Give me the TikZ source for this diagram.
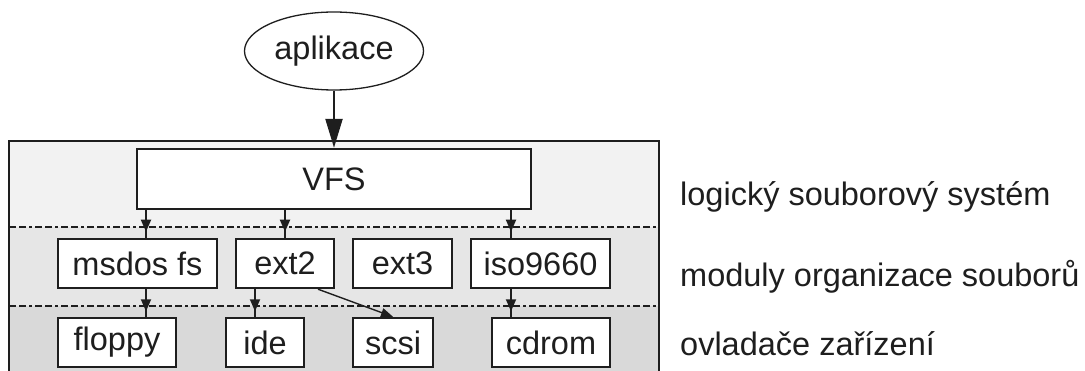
\documentclass[tikz,border=0pt]{standalone}
\usepackage{fontspec}
\setmainfont{Liberation Sans}
\usetikzlibrary{arrows.meta,decorations.markings,calc,shapes.geometric}
\definecolor{inkc}{HTML}{1E1E1E}
\definecolor{bandA}{HTML}{F2F2F2}
\definecolor{bandB}{HTML}{E6E6E6}
\definecolor{bandC}{HTML}{D9D9D9}
\begin{document}
\begin{tikzpicture}[x=1pt,y=-1pt,
  every node/.style={font=\fontsize{32.5}{36}\selectfont, text=inkc},
  boxnode/.style={draw=inkc, line width=2.4pt, fill=white, inner sep=0pt, anchor=center},
  sepline/.style={draw=inkc, line width=2.4pt, dash pattern=on 7pt off 3pt on 7pt off 3pt on 3pt off 3pt},
  midarrow/.style={draw=inkc, line width=1.8pt, postaction={decorate},
    decoration={markings, mark=at position #1 with {\arrow{Triangle[length=12pt,width=10pt]}}}},
  layerlabel/.style={anchor=base west, inner sep=0pt}
]
\useasboundingbox (0,0) rectangle (1085,371);
\begin{scope}
\clip (0,0) rectangle (1085,371);
% bands
\fill[bandA] (9,141) rectangle (659,227);
\fill[bandB] (9,227) rectangle (659,306);
\fill[bandC] (9,306) rectangle (659,380);
\draw[sepline] (9,227) -- (659,227);
\draw[sepline] (9,306) -- (659,306);
\draw[draw=inkc, line width=2.4pt] (9,380) -- (9,141) -- (659,141) -- (659,380);
\end{scope}

\node[draw=inkc, line width=1.3pt, ellipse, minimum width=179pt, minimum height=78pt, inner sep=0pt] (app) at (334,51) {aplikace};
\node[boxnode, minimum width=394pt, minimum height=60pt] (vfs) at (334,179) {VFS};

\node[boxnode, minimum width=159pt, minimum height=49pt] (msdos) at (137.5,263.5) {msdos fs};
\node[boxnode, minimum width=98pt, minimum height=49pt] (ext2) at (285,263.5) {ext2};
\node[boxnode, minimum width=99pt, minimum height=49pt] (ext3) at (402.5,263.5) {ext3};
\node[boxnode, minimum width=139pt, minimum height=49pt] (iso) at (540.5,263.5) {iso9660};

\node[boxnode, minimum width=118pt, minimum height=49pt] (floppy) at (117,342.5) {floppy};
\node[boxnode, minimum width=78pt, minimum height=49pt] (ide) at (265,342.5) {ide};
\node[boxnode, minimum width=80pt, minimum height=49pt] (scsi) at (393,342.5) {scsi};
\node[boxnode, minimum width=118pt, minimum height=49pt] (cdrom) at (551,342.5) {cdrom};

\draw[draw=inkc, line width=2.2pt, -{Triangle[length=29pt,width=17pt]}] (app.south) -- (vfs.north);

\draw[midarrow=0.78] ([xshift=8.5pt]msdos.north |- vfs.south) -- ([xshift=8.5pt]msdos.north);
\draw[midarrow=0.78] (ext2.north |- vfs.south) -- (ext2.north);
\draw[midarrow=0.78] ([xshift=-29.5pt]iso.north |- vfs.south) -- ([xshift=-29.5pt]iso.north);

\draw[midarrow=0.8] ([xshift=8.5pt]msdos.south) -- ([xshift=8.5pt]msdos.south |- floppy.north);
\draw[midarrow=0.8] ([xshift=-30pt]ext2.south) -- ([xshift=-30pt]ext2.south |- ide.north);
\draw[midarrow=0.8] ([xshift=-29.5pt]iso.south) -- ([xshift=-29.5pt]iso.south |- cdrom.north);
\draw[draw=inkc, line width=1.4pt, -{Triangle[length=12pt,width=9pt]}] ([xshift=33pt]ext2.south) -- (scsi.north);

\node[layerlabel] (l1) at (680,206) {logický souborový systém};
\node[layerlabel] (l2) at (680,287) {moduly organizace souborů};
\node[layerlabel] (l3) at (680,356) {ovladače zařízení};
\end{tikzpicture}
\end{document}
